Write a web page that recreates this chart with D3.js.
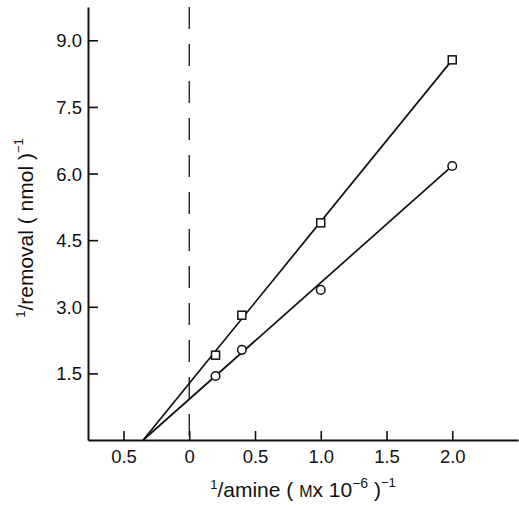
<!DOCTYPE html>
<html>
<head>
<meta charset="utf-8">
<script src="https://cdn.jsdelivr.net/npm/d3@7"></script>
<style>
  html, body { margin: 0; padding: 0; background: #fff; }
  svg { display: block; }
  text { font-family: "Liberation Sans", Arial, Helvetica, sans-serif; fill: #111; }
</style>
</head>
<body>
<svg id="chart" width="519" height="505"></svg>
<script>
// ---- data ----
const xValues = [0.2, 0.4, 1.0, 2.0];
const squareValues = [1.91, 2.81, 4.89, 8.56];
const circleValues = [1.44, 2.03, 3.38, 6.17];
// fitted lines: common x-intercept and end point x
const fitX = [-0.35, 2.0];
const squareFitY = [0, 8.56];
const circleFitY = [0, 6.17];
const xTicks = [-0.5, 0, 0.5, 1.0, 1.5, 2.0];
const xTickLabels = ["0.5", "0", "0.5", "1.0", "1.5", "2.0"];
const yTicks = [1.5, 3.0, 4.5, 6.0, 7.5, 9.0];
const yTickLabels = ["1.5", "3.0", "4.5", "6.0", "7.5", "9.0"];

const svg = d3.select("#chart");
const x = d3.scaleLinear().domain([-0.77, 2.5]).range([88, 518]);
const y = d3.scaleLinear().domain([0, 9.75]).range([440, 7]);

// dashed zero line
svg.append("line")
  .attr("x1", x(0)).attr("x2", x(0))
  .attr("y1", y(9.75)).attr("y2", y(0))
  .attr("stroke", "#111").attr("stroke-width", 1.3)
  .attr("stroke-dasharray", "22,15");

// axes
const xAxis = d3.axisBottom(x).tickValues(xTicks)
  .tickFormat((d, i) => xTickLabels[i]).tickSize(-9).tickSizeOuter(0);
const gx = svg.append("g").attr("transform", `translate(0,${y(0)})`).call(xAxis);
const yAxis = d3.axisLeft(y).tickValues(yTicks)
  .tickFormat((d, i) => yTickLabels[i]).tickSize(-10).tickSizeOuter(0);
const gy = svg.append("g").attr("transform", `translate(${x(-0.77)},0)`).call(yAxis);
[gx, gy].forEach(g => {
  g.select(".domain").attr("stroke", "#111").attr("stroke-width", 2);
  g.selectAll(".tick line").attr("stroke", "#111").attr("stroke-width", 1.6);
  g.selectAll(".tick text").attr("font-size", 18.5)
    .attr("font-family", "'Liberation Sans', Arial, sans-serif").attr("fill", "#111");
});
gx.selectAll(".tick text").attr("y", 10).attr("dy", "0.72em");
gy.selectAll(".tick text").attr("x", -6).attr("dy", "0.35em");

// fitted lines
const line = d3.line().x(d => x(d[0])).y(d => y(d[1]));
[squareFitY, circleFitY].forEach(fy => {
  svg.append("path")
    .attr("d", line(fitX.map((v, i) => [v, fy[i]])))
    .attr("fill", "none").attr("stroke", "#111").attr("stroke-width", 1.7);
});

// markers
svg.selectAll("rect.sq").data(xValues).enter().append("rect")
  .attr("class", "sq")
  .attr("x", d => x(d) - 4).attr("y", (d, i) => y(squareValues[i]) - 4)
  .attr("width", 8).attr("height", 8)
  .attr("fill", "#fff").attr("stroke", "#111").attr("stroke-width", 1.5);
svg.selectAll("circle.ci").data(xValues).enter().append("circle")
  .attr("class", "ci")
  .attr("cx", d => x(d)).attr("cy", (d, i) => y(circleValues[i]))
  .attr("r", 4.3)
  .attr("fill", "#fff").attr("stroke", "#111").attr("stroke-width", 1.5);

// x axis title
const xt = svg.append("text").attr("x", 303).attr("y", 497)
  .attr("text-anchor", "middle").attr("font-size", 21);
xt.append("tspan").attr("font-size", 13).attr("dy", -8).text("1");
xt.append("tspan").attr("dy", 8).text("/amine ( ");
xt.append("tspan").attr("font-size", 16).text("M");
xt.append("tspan").text("x 10");
xt.append("tspan").attr("font-size", 14).attr("dy", -9).text("−6");
xt.append("tspan").attr("dy", 9).text(" )");
xt.append("tspan").attr("font-size", 13).attr("dy", -10).text("−1");

// y axis title
const yt = svg.append("text")
  .attr("transform", "translate(33,228) rotate(-90)")
  .attr("text-anchor", "middle").attr("font-size", 21);
yt.append("tspan").attr("font-size", 13).attr("dy", -8).text("1");
yt.append("tspan").attr("dy", 8).text("/removal ( nmol )");
yt.append("tspan").attr("font-size", 13).attr("dy", -10).text("−1");
</script>
</body>
</html>
